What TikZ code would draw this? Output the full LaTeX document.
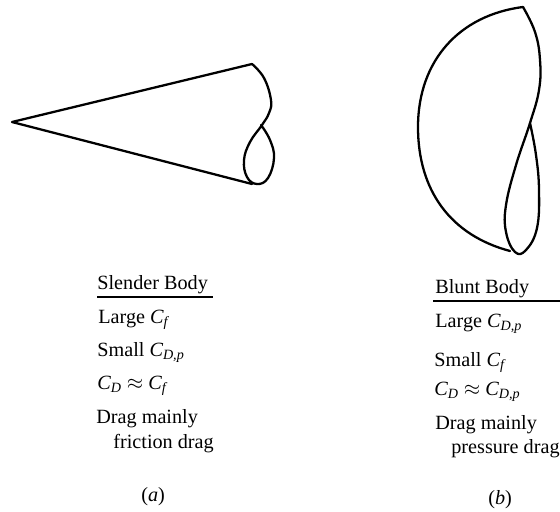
\documentclass[tikz,border=0pt]{standalone}
\usepackage{amsmath}
\usepackage{fontspec}
\setmainfont{Liberation Serif}
\usepackage{tikz}
\tikzset{caption/.style={anchor=base west,inner sep=0pt,font=\fontsize{11.5}{14}\selectfont}}
\tikzset{body/.style={line width=1.3pt,line join=round,line cap=round}}
\newcommand*{\Cf}{$\textit{C}_{\textit{f}}$}
\newcommand*{\CD}{$\textit{C}_{\textit{D}}$}
\newcommand*{\CDp}{$\textit{C}_{\textit{D,p}}$}

\begin{document}
\begin{tikzpicture}[x=0.02cm,y=-0.02cm]
\useasboundingbox (0,0) rectangle (560,511);
% slender body
\draw[body] (252,184) -- (12,122) -- (252,64);
\draw[body] plot[smooth,tension=0.7] coordinates {(252,64) (264,78) (271,100) (269,113) (262,125) (250,142) (244,160) (247,177) (257,184) (268,178) (274,158) (270,140) (261,125)};
% blunt body
\draw[body] (523,7) .. controls (460,15) and (418,60) .. (418,127) .. controls (418,190) and (450,235) .. (510,251);
\draw[body] plot[smooth,tension=0.7] coordinates {(523,7) (535,32) (540,60) (539,90) (530,123) (516,165) (506,205) (506,232) (515,252) (526,250) (537,228) (539,190) (536,155) (530,123)};

% slender column
\node[caption] (slenderhead) at (97,289) {Slender Body};
\coordinate (slenderleft) at (97,297);
\coordinate (slenderright) at (213,297);
\draw[semithick] (slenderleft) -- (slenderright);
\node[caption] (slenderone) at (98,323) {Large \Cf};
\node[caption] (slendertwo) at (97,356) {Small \CDp};
\node[caption] (slenderthree) at (97,389) {\CD{} $\approx$ \Cf};
\node[caption] (slenderfour) at (96,423) {Drag mainly};
\node[caption] (slenderfive) at (113,448) {friction drag};
\node[caption] (slendertag) at (141,501) {(\textit{a})};

% blunt column
\node[caption] (blunthead) at (435,293) {Blunt Body};
\coordinate (bluntleft) at (433,301);
\coordinate (bluntright) at (560,301);
\draw[semithick] (bluntleft) -- (bluntright);
\node[caption] (bluntone) at (435,327) {Large \CDp};
\node[caption] (blunttwo) at (434,366) {Small \Cf};
\node[caption] (bluntthree) at (434,395) {\CD{} $\approx$ \CDp};
\node[caption] (bluntfour) at (435,429) {Drag mainly};
\node[caption] (bluntfive) at (451,453) {pressure drag};
\node[caption] (blunttag) at (488,504) {(\textit{b})};
\end{tikzpicture}
\end{document}
